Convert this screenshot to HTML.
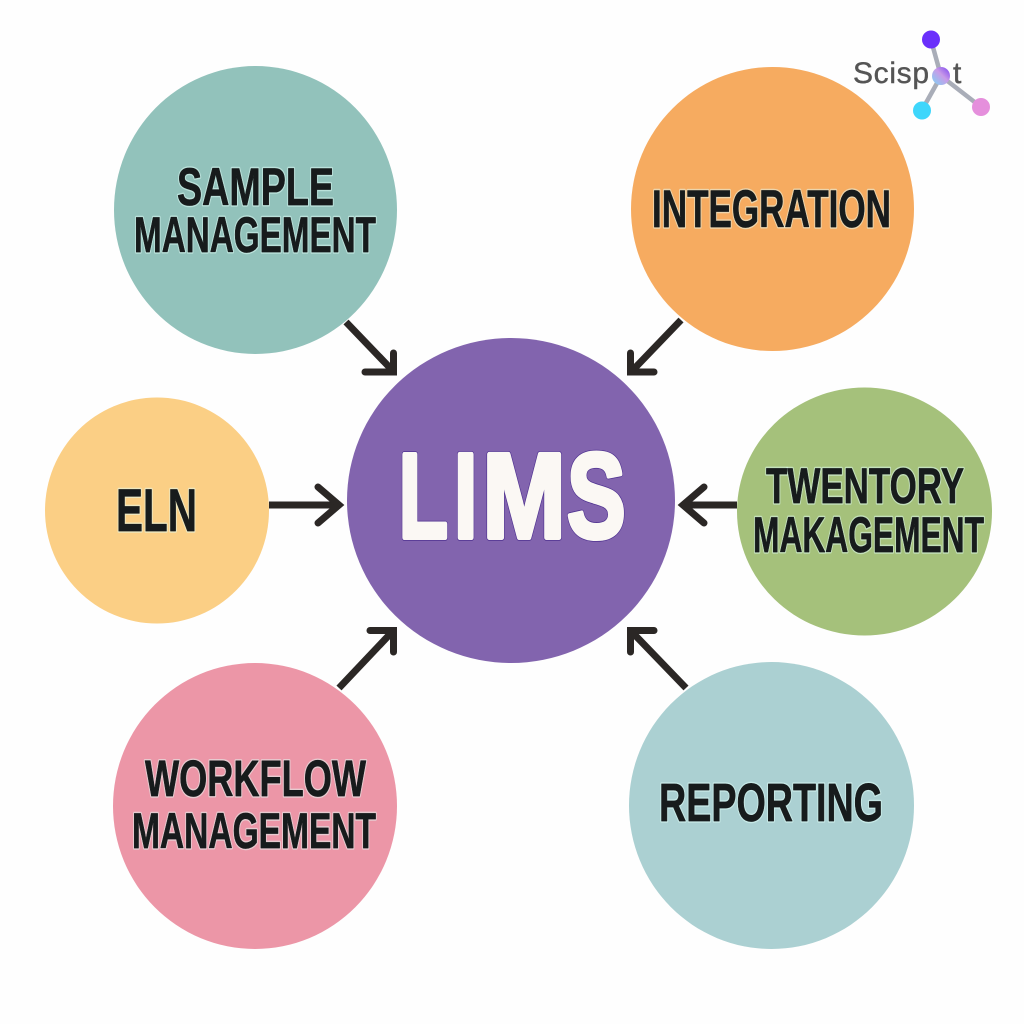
<!DOCTYPE html>
<html><head><meta charset="utf-8"><style>
html,body{margin:0;padding:0;background:#fff}
svg{display:block}
.t{font-family:"Liberation Sans Narrow","Liberation Sans",sans-serif;font-weight:700;fill:#171b1c;}
.h{font-family:"Liberation Sans Narrow","Liberation Sans",sans-serif;font-weight:700;fill:none;stroke:rgba(225,255,250,.5);stroke-width:3.500;stroke-linejoin:round;}
.d{font-family:"Liberation Sans Narrow","Liberation Sans",sans-serif;font-weight:700;fill:#171b1c;stroke:#171b1c;stroke-width:.7;stroke-linejoin:round;}
.a{fill:none;stroke:#2b2725;stroke-width:7;stroke-linecap:round;stroke-linejoin:miter}
.l{font-family:"Liberation Sans",sans-serif;font-weight:700;font-size:121px;fill:#fbf8f4;stroke:#fbf8f4;stroke-width:5;stroke-linejoin:round}
.o{font-family:"Liberation Sans",sans-serif;font-weight:700;font-size:121px;fill:#4f3290;stroke:#4f3290;stroke-width:6.600;stroke-linejoin:round}
</style></head><body>
<svg width="1024" height="1024" viewBox="0 0 1024 1024" xmlns="http://www.w3.org/2000/svg">
<rect width="1024" height="1024" fill="#fefefe"/>
<ellipse cx="255.500" cy="210" rx="141.500" ry="144" fill="#92c2bb"/>
<ellipse cx="772.500" cy="209" rx="141.500" ry="142" fill="#f6ab60"/>
<ellipse cx="157" cy="510.500" rx="112" ry="113" fill="#fbcf85"/>
<ellipse cx="511" cy="500.500" rx="164" ry="162.500" fill="#8264ae"/>
<ellipse cx="864.500" cy="511.500" rx="127.500" ry="124" fill="#a5c17b"/>
<ellipse cx="255" cy="806" rx="142" ry="143" fill="#ec96a7"/>
<ellipse cx="771.500" cy="805.500" rx="142.500" ry="143.500" fill="#abd0d2"/>

<path class="a" style="stroke-linecap:butt" d="M346 322L393 371"/>
<path class="a" d="M393.500 353V372H365"/>
<path class="a" style="stroke-linecap:butt" d="M681 320L632 371"/>
<path class="a" d="M630.500 353V372H654"/>
<path class="a" style="stroke-linecap:butt" d="M269 505H338"/>
<path class="a" d="M318 487L339 505L318 523"/>
<path class="a" style="stroke-linecap:butt" d="M737 505H686"/>
<path class="a" d="M704 487L683 505L704 523"/>
<path class="a" style="stroke-linecap:butt" d="M339 688L392 632"/>
<path class="a" d="M370 630.500H393.500V652"/>
<path class="a" style="stroke-linecap:butt" d="M686 688L632 632"/>
<path class="a" d="M654 630.500H630.500V652"/>

<text class="o" x="398.600" y="537.500" textLength="49.400" lengthAdjust="spacingAndGlyphs">L</text>
<text class="o" x="453.700" y="537.500" textLength="23.800" lengthAdjust="spacingAndGlyphs">I</text>
<text class="o" x="482.500" y="537.500" textLength="83.300" lengthAdjust="spacingAndGlyphs">M</text>
<text class="o" x="567" y="537.500" textLength="58.600" lengthAdjust="spacingAndGlyphs">S</text>
<text class="l" x="398.600" y="537.500" textLength="49.400" lengthAdjust="spacingAndGlyphs">L</text>
<text class="l" x="453.700" y="537.500" textLength="23.800" lengthAdjust="spacingAndGlyphs">I</text>
<text class="l" x="482.500" y="537.500" textLength="83.300" lengthAdjust="spacingAndGlyphs">M</text>
<text class="l" x="567" y="537.500" textLength="58.600" lengthAdjust="spacingAndGlyphs">S</text>

<g class="h" lengthAdjust="spacingAndGlyphs">
<text x="177" y="205" textLength="157" lengthAdjust="spacingAndGlyphs" font-size="53">SAMPLE</text>
<text x="134" y="252" textLength="242" lengthAdjust="spacingAndGlyphs" font-size="50">MANAGEMENT</text>
<text x="652" y="227" textLength="239" lengthAdjust="spacingAndGlyphs" font-size="53">INTEGRATION</text>
<text x="116" y="531" textLength="81" lengthAdjust="spacingAndGlyphs" font-size="60">ELN</text>
<text x="766" y="503" textLength="198" lengthAdjust="spacingAndGlyphs" font-size="50">TWENTORY</text>
<text x="753" y="552" textLength="231" lengthAdjust="spacingAndGlyphs" font-size="50">MAKAGEMENT</text>
<text x="145" y="796" textLength="221" lengthAdjust="spacingAndGlyphs" font-size="51">WORKFLOW</text>
<text x="132" y="848" textLength="244" lengthAdjust="spacingAndGlyphs" font-size="50">MANAGEMENT</text>
<text x="659" y="821" textLength="224" lengthAdjust="spacingAndGlyphs" font-size="54">REPORTING</text>
</g>
<g class="d">
<text x="177" y="205" textLength="157" lengthAdjust="spacingAndGlyphs" font-size="53">SAMPLE</text>
<text x="134" y="252" textLength="242" lengthAdjust="spacingAndGlyphs" font-size="50">MANAGEMENT</text>
<text x="652" y="227" textLength="239" lengthAdjust="spacingAndGlyphs" font-size="53">INTEGRATION</text>
<text x="116" y="531" textLength="81" lengthAdjust="spacingAndGlyphs" font-size="60">ELN</text>
<text x="766" y="503" textLength="198" lengthAdjust="spacingAndGlyphs" font-size="50">TWENTORY</text>
<text x="753" y="552" textLength="231" lengthAdjust="spacingAndGlyphs" font-size="50">MAKAGEMENT</text>
<text x="145" y="796" textLength="221" lengthAdjust="spacingAndGlyphs" font-size="51">WORKFLOW</text>
<text x="132" y="848" textLength="244" lengthAdjust="spacingAndGlyphs" font-size="50">MANAGEMENT</text>
<text x="659" y="821" textLength="224" lengthAdjust="spacingAndGlyphs" font-size="54">REPORTING</text>
</g>

<defs><linearGradient id="g" x1="0" y1="1" x2="1" y2="0"><stop offset="0" stop-color="#7cd4f4"/><stop offset=".55" stop-color="#c99be8"/><stop offset="1" stop-color="#7a45f0"/></linearGradient></defs>
<text x="853" y="83" font-family="Liberation Sans, sans-serif" font-size="30" fill="#555" stroke="#555" stroke-width=".4" textLength="76" lengthAdjust="spacing">Scisp</text>
<text x="953" y="83" font-family="Liberation Sans, sans-serif" font-size="30" fill="#555" stroke="#555" stroke-width=".4">t</text>
<path d="M931 40L941 76M941 76L922 110M941 76L981 107" stroke="#a9adb8" stroke-width="4.500" fill="none"/>
<circle cx="931" cy="39.500" r="9" fill="#6a2ffb"/>
<circle cx="941" cy="76" r="9" fill="url(#g)"/>
<circle cx="922" cy="110.500" r="9" fill="#3ed6fb"/>
<circle cx="981" cy="107" r="9" fill="#e58fdc"/>
</svg>
</body></html>
